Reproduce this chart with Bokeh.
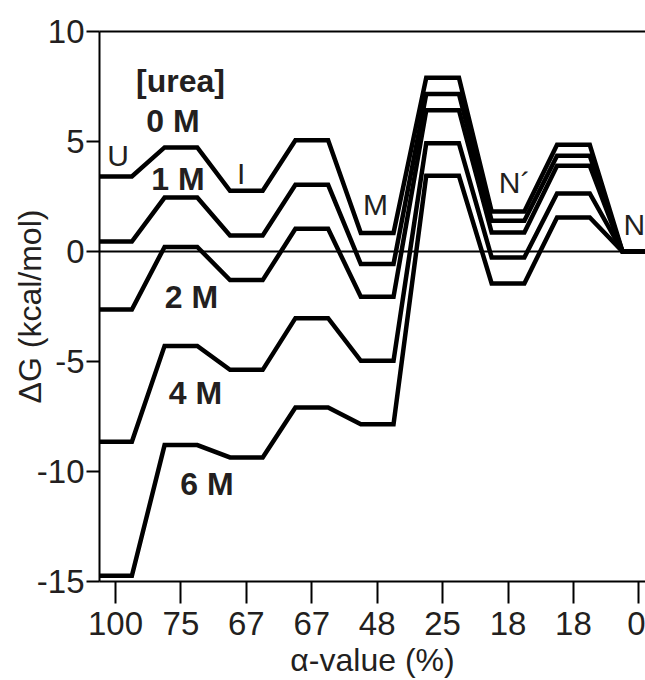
from bokeh.plotting import figure
from bokeh.models import Range1d, FixedTicker, LinearAxis, Span, Label
from bokeh.embed import file_html
from bokeh.resources import INLINE

# ---- data ----
states = ["100", "75", "67", "67", "48", "25", "18", "18", "0"]
state_names = ["U", "I", "M", "N´", "N"]
urea_labels = ["0 M", "1 M", "2 M", "4 M", "6 M"]
dg_0M = [3.41, 4.73, 2.76, 5.06, 0.84, 7.90, 1.82, 4.85, 0.0]
dg_1M = [0.45, 2.45, 0.73, 3.03, -0.57, 7.16, 1.40, 4.35, 0.0]
dg_2M = [-2.64, 0.21, -1.30, 1.03, -2.06, 6.42, 0.86, 3.90, 0.0]
dg_4M = [-8.65, -4.29, -5.38, -3.03, -4.97, 4.92, -0.27, 2.64, 0.0]
dg_6M = [-14.74, -8.80, -9.36, -7.09, -7.85, 3.44, -1.45, 1.55, 0.0]
series = [dg_0M, dg_1M, dg_2M, dg_4M, dg_6M]
y_ticks = [-15, -10, -5, 0, 5, 10]

TXT = "#231f20"
FONT = "Liberation Sans"
HALF = 0.25
DY = 0.53  # baseline correction for label placement

p = figure(width=645, height=680,
           x_range=Range1d(-0.245, 8.102), y_range=Range1d(-15, 10),
           output_backend="svg", toolbar_location=None,
           min_border_left=99, min_border_right=0,
           min_border_top=31, min_border_bottom=99)
p.outline_line_color = None
p.grid.visible = False
p.background_fill_color = "white"

# axes
p.xaxis.ticker = FixedTicker(ticks=list(range(len(states))))
p.xaxis.major_label_overrides = {i: s for i, s in enumerate(states)}
p.yaxis.ticker = FixedTicker(ticks=y_ticks)
p.yaxis.major_label_overrides = {t: str(t) for t in y_ticks}
for ax in (p.xaxis[0], p.yaxis[0]):
    ax.axis_line_width = 2
    ax.axis_line_color = "black"
    ax.major_tick_line_width = 2
    ax.major_tick_line_color = "black"
    ax.minor_tick_line_color = None
    ax.major_tick_in = 0
    ax.major_label_text_font = FONT
    ax.major_label_text_font_size = "33px"
    ax.major_label_text_color = TXT
    ax.axis_label_text_font = FONT
    ax.axis_label_text_font_size = "32px"
    ax.axis_label_text_font_style = "normal"
    ax.axis_label_text_color = TXT
p.xaxis.major_tick_out = 22
p.xaxis.major_label_standoff = 8
p.xaxis.axis_label = "α-value (%)"
p.xaxis.axis_label_standoff = 4
p.yaxis.major_tick_out = 13
p.yaxis.major_label_standoff = 2
p.yaxis.axis_label = "ΔG (kcal/mol)"
p.yaxis.axis_label_standoff = -14

top = LinearAxis(ticker=FixedTicker(ticks=[]), axis_line_width=2,
                 axis_line_color="black", major_label_text_font_size="0px",
                 major_tick_line_color=None, minor_tick_line_color=None)
p.add_layout(top, "above")

p.add_layout(Span(location=0, dimension="width", line_color="black", line_width=2))

# energy profiles
for vals in series:
    xs, ys = [], []
    for i, v in enumerate(vals):
        xs += [i - HALF, i + HALF]
        ys += [v, v]
    p.line(xs, ys, line_color="black", line_width=4.5, line_join="miter")

# urea labels
urea_pos = [(0.879, 5.41), (0.955, 2.76), (1.161, -2.62), (1.222, -6.97), (1.398, -11.1)]
p.add_layout(Label(x=0.993, y=7.23 + DY, text="[urea]", text_font=FONT, text_font_size="32px",
                   text_font_style="bold", text_color=TXT, text_align="center",
                   text_baseline="alphabetic"))
for (x, y), t in zip(urea_pos, urea_labels):
    p.add_layout(Label(x=x, y=y + DY, text=t, text_font=FONT, text_font_size="32px",
                       text_font_style="bold", text_color=TXT, text_align="center",
                       text_baseline="alphabetic"))

# state labels
state_pos = [(0.038, 3.82, "center"), (1.92, 3.02, "center"), (3.975, 1.62, "center"),
             (6.10, 2.61, "center"), (7.766, 0.71, "left")]
for (x, y, al), t in zip(state_pos, state_names):
    p.add_layout(Label(x=x, y=y + DY, text=t, text_font=FONT, text_font_size="30px",
                       text_color=TXT, text_align=al, text_baseline="alphabetic"))

open("out.html", "w").write(file_html(p, INLINE))
